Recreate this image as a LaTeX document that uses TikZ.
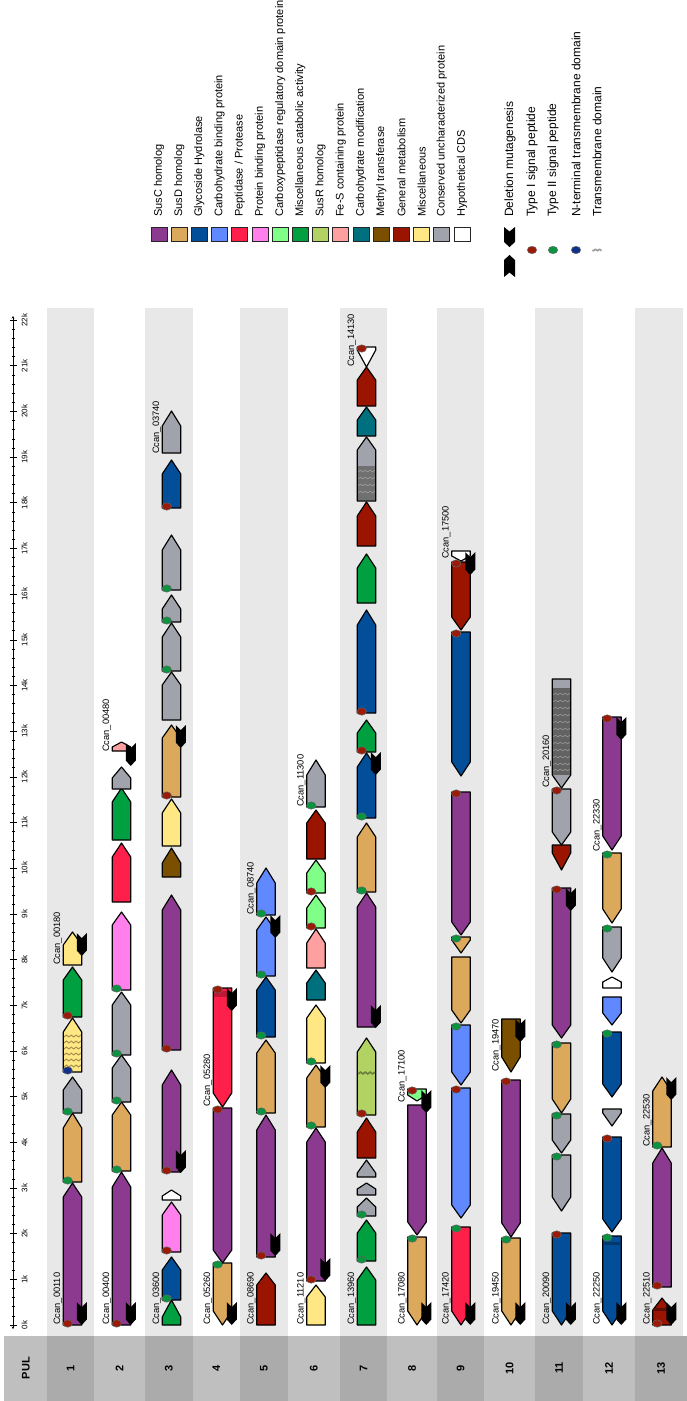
\documentclass[tikz,border=0pt]{standalone}
\usepackage{fontspec}
\setmainfont{Liberation Sans}
\usetikzlibrary{arrows.meta}
\definecolor{cSusC}{HTML}{8B3A8F}
\definecolor{cSusD}{HTML}{DBA85C}
\definecolor{cGH}{HTML}{034E99}
\definecolor{cCBP}{HTML}{6089FF}
\definecolor{cPep}{HTML}{FF1F4B}
\definecolor{cPBP}{HTML}{FF80EC}
\definecolor{cCarbx}{HTML}{80FF88}
\definecolor{cMcat}{HTML}{00A040}
\definecolor{cSusR}{HTML}{B2D263}
\definecolor{cFeS}{HTML}{FFA0A0}
\definecolor{cCmod}{HTML}{006F7E}
\definecolor{cMeth}{HTML}{7A5000}
\definecolor{cGen}{HTML}{9B1400}
\definecolor{cMisc}{HTML}{FFE884}
\definecolor{cCons}{HTML}{A0A3AB}
\definecolor{cHyp}{HTML}{FFFFFF}
\definecolor{spR}{HTML}{9B1A08}
\definecolor{spG}{HTML}{0A9440}
\definecolor{spB}{HTML}{10308A}
\definecolor{bandc}{HTML}{E8E8E8}
\definecolor{hdA}{HTML}{ABABAB}
\definecolor{hdB}{HTML}{BFBFBF}
\definecolor{tmY}{HTML}{A89050}
\definecolor{tmG}{HTML}{707070}
\definecolor{tmD}{HTML}{626262}
\definecolor{tmL}{HTML}{9A9A9A}
\tikzset{
  gene/.style={draw=black,line width=1.15pt,line join=round},
  spdot/.style={draw=black!60,line width=0.5pt},
  lbl/.style={rotate=90,anchor=south west,inner sep=0pt,font=\fontsize{9.3}{10}\selectfont},
  axl/.style={rotate=90,anchor=center,inner sep=0pt,font=\fontsize{8}{9}\selectfont},
  legt/.style={rotate=90,anchor=west,inner sep=0pt,font=\fontsize{11}{12}\selectfont},
  mlegt/.style={rotate=90,anchor=west,inner sep=0pt,font=\fontsize{12}{13}\selectfont},
  hdt/.style={rotate=90,anchor=center,inner sep=0pt,font=\fontsize{11}{12}\selectfont\bfseries},
  legbox/.style={draw=black!85,line width=1pt},
  axisln/.style={draw=black,line width=0.6pt},
  tmw/.style={line width=1pt}
}
% forward gene: x, ylow(start), ytip, head, colour
\newcommand{\GF}[5]{\filldraw[gene,fill=#5] ({#1-9.25},#2) -- ({#1+9.25},#2) -- ({#1+9.25},{#3+#4}) -- (#1,#3) -- ({#1-9.25},{#3+#4}) -- cycle;}
% reverse gene: x, ytop(start), ytip, head, colour
\newcommand{\GR}[5]{\filldraw[gene,fill=#5] ({#1-9.25},#2) -- ({#1+9.25},#2) -- ({#1+9.25},{#3-#4}) -- (#1,#3) -- ({#1-9.25},{#3-#4}) -- cycle;}
\newcommand{\DF}[3]{\filldraw[spdot,fill=#3] ({#1-4.8},{#2-1.5}) ellipse [x radius=4.7pt, y radius=3.7pt];}
\newcommand{\DR}[3]{\filldraw[spdot,fill=#3] ({#1-4.8},{#2+1.5}) ellipse [x radius=4.7pt, y radius=3.7pt];}
\newcommand{\DM}[2]{\fill[black] ({#1+4.25},#2) -- ({#1+9.25},{#2+5}) -- ({#1+14.25},#2) -- ({#1+14.25},{#2+17.5}) -- ({#1+9.25},{#2+23}) -- ({#1+4.25},{#2+17.5}) -- cycle;}
\newcommand{\LB}[4]{\node[lbl] (#4) at ({#1-10.3},#2) {#3};}
\def\xA{72.5}\def\xB{121.5}\def\xC{171.5}\def\xD{222.5}\def\xE{266}\def\xF{316}\def\xG{366.5}
\def\xH{417}\def\xI{461}\def\xJ{511}\def\xK{561.5}\def\xL{612}\def\xM{662}
\begin{document}
\begin{tikzpicture}[x=1pt,y=-1pt]
\useasboundingbox (0,0) rectangle (687,1401);
\fill[white] (0,0) rectangle (687,1401);
% bands
\foreach \a/\b in {46.7/94.3,145/192.7,240/287.7,340/387,437/484.3,535/583,635/683}
  {\fill[bandc] (\a,308) rectangle (\b,1336);}
% header
\fill[hdB] (4,1336) rectangle (46.7,1401);
\node[hdt] (hpul) at (26,1368) {PUL};
\foreach \a/\b/\c/\n in {46.7/94.3/hdA/1,94.3/145/hdB/2,145/192.7/hdA/3,192.7/240/hdB/4,240/287.7/hdA/5,287.7/340/hdB/6,340/387/hdA/7,387/437/hdB/8,437/484.3/hdA/9,484.3/535/hdB/10,535/583/hdA/11,583/635/hdB/12,635/687/hdA/13}
  {\fill[\c] (\a,1336) rectangle (\b,1401);
   \node[hdt] (h\n) at ({(\a+\b)/2},1368) {\n};}
% axis
\draw[axisln,{Stealth[length=2.5pt,width=2.5pt]}-{Stealth[length=2.5pt,width=2.5pt]}] (13,1329) -- (13,316);
\foreach \j in {0,...,110} {\pgfmathsetmacro\yy{1325-9.136*\j}\draw[axisln] (11.5,\yy) -- (15,\yy);}
\foreach \k in {0,...,22} {\pgfmathsetmacro\yy{1325-45.68*\k}\draw[axisln] (10,\yy) -- (16.5,\yy);
  \node[axl] (ax\k) at (24.5,\yy) {\k k};}
% ---------------- legend
\foreach \c/\t [count=\i from 0] in {cSusC/{SusC homolog},cSusD/{SusD homolog},cGH/{Glycoside Hydrolase},cCBP/{Carbohydrate binding protein},cPep/{Peptidase / Protease},cPBP/{Protein binding protein},cCarbx/{Carboxypeptidase regulatory domain protein},cMcat/{Miscellaneous catabolic activity},cSusR/{SusR homolog},cFeS/{Fe-S containing protein},cCmod/{Carbohydrate modification},cMeth/{Methyl transferase},cGen/{General metabolism},cMisc/{Miscellaneous},cCons/{Conserved uncharacterized protein},cHyp/{Hypothetical CDS}}
  {\pgfmathsetmacro\lx{159+20.2*\i}
   \filldraw[legbox,fill=\c] (\lx-8,227) rectangle (\lx+8,241);
   \node[legt] (lg\i) at (\lx,217) {\t};}
\node[mlegt] (mdel) at (510,217) {Deletion mutagenesis};
\node[mlegt] (mt1) at (532,217) {Type I signal peptide};
\node[mlegt] (mt2) at (553,217) {Type II signal peptide};
\node[mlegt] (mnt) at (576,217) {N-terminal transmembrane domain};
\node[mlegt] (mtm) at (597,217) {Transmembrane domain};
\fill[black] (504,227) -- (509.5,231.5) -- (515,227) -- (515,242) -- (509.5,247) -- (504,242) -- cycle;
\fill[black] (504,260) -- (509.5,255) -- (515,260) -- (515,277) -- (509.5,272.5) -- (504,277) -- cycle;
\filldraw[spdot,fill=spR] (532,250) ellipse [x radius=4.7pt, y radius=3.7pt];
\filldraw[spdot,fill=spG] (553,250) ellipse [x radius=4.7pt, y radius=3.7pt];
\filldraw[spdot,fill=spB] (576,250) ellipse [x radius=4.7pt, y radius=3.7pt];
\draw[tmL,line width=1.6pt] plot[domain=0:9,samples=12,smooth] ({592.5+\x},{250+0.7*sin(\x*90)});
% ---------------- row 1
\GF{\xA}{1325}{1183}{14}{cSusC}
\GF{\xA}{1182}{1113}{15}{cSusD}
\GF{\xA}{1113}{1077}{13}{cCons}
\GF{\xA}{1072}{1018}{14}{cMisc}
\foreach \yy in {1036,1042,1048,1054,1060,1066}{\draw[tmw,tmY] plot[domain=-8.4:8.4,samples=15,smooth] ({72.5+\x},{\yy+0.9*sin(\x*75)});}
\GF{\xA}{1017}{967}{13}{cMcat}
\GF{\xA}{965}{932}{13}{cMisc}
\DF{\xA}{1325}{spR}\DF{\xA}{1182}{spG}\DF{\xA}{1113}{spG}\DF{\xA}{1072}{spB}\DF{\xA}{1017}{spR}
\DM{\xA}{1302}\DM{\xA}{933}
\LB{\xA}{1325}{Ccan\_00110}{l1a}\LB{\xA}{965}{Ccan\_00180}{l1b}
% ---------------- row 2
\GF{\xB}{1325}{1172}{15}{cSusC}
\GF{\xB}{1171}{1102}{13}{cSusD}
\GF{\xB}{1102}{1055}{13}{cCons}
\GF{\xB}{1055}{992}{13}{cCons}
\GF{\xB}{990}{912}{13}{cPBP}
\GF{\xB}{902}{843}{14}{cPep}
\GF{\xB}{840}{788}{14}{cMcat}
\GF{\xB}{789}{767}{11}{cCons}
\GF{\xB}{751}{742}{5}{cFeS}
\DF{\xB}{1325}{spR}\DF{\xB}{1171}{spG}\DF{\xB}{1102}{spG}\DF{\xB}{1055}{spG}\DF{\xB}{990}{spG}
\DM{\xB}{1302}\DM{\xB}{743}
\LB{\xB}{1325}{Ccan\_00400}{l2a}\LB{\xB}{752}{Ccan\_00480}{l2b}
% ---------------- row 3
\GF{\xC}{1325}{1300}{17}{cMcat}
\GF{\xC}{1300}{1257}{13}{cGH}
\GF{\xC}{1252}{1202}{13}{cPBP}
\GF{\xC}{1200}{1190}{6}{cHyp}
\GF{\xC}{1172}{1070}{15}{cSusC}
\GF{\xC}{1050}{895}{15}{cSusC}
\GF{\xC}{877}{848}{15}{cMeth}
\GF{\xC}{846}{799}{14}{cMisc}
\GF{\xC}{797}{725}{13}{cSusD}
\GF{\xC}{720}{672}{13}{cCons}
\GF{\xC}{671}{623}{14}{cCons}
\GF{\xC}{622}{595}{14}{cCons}
\GF{\xC}{590}{535}{15}{cCons}
\GF{\xC}{508}{460}{14}{cGH}
\GF{\xC}{453}{411}{15}{cCons}
\DF{\xC}{1300}{spG}\DF{\xC}{1252}{spR}\DF{\xC}{1172}{spR}\DF{\xC}{1050}{spR}\DF{\xC}{797}{spR}
\DF{\xC}{671}{spG}\DF{\xC}{622}{spG}\DF{\xC}{590}{spG}\DF{\xC}{508}{spR}
\DM{\xC}{1150}\DM{\xC}{725}
\LB{\xC}{1325}{Ccan\_03600}{l3a}\LB{\xC}{454}{Ccan\_03740}{l3b}
% ---------------- row 4
\GR{\xD}{1263}{1325}{14}{cSusD}
\GR{\xD}{1108}{1263}{13}{cSusC}
\GR{\xD}{988}{1107}{14}{cPep}
\fill[cPep!75!black] (214,991) rectangle (231,997);
\DR{\xD}{1263}{spG}\DR{\xD}{1108}{spR}\DR{\xD}{988}{spR}
\DM{\xD}{1302}\DM{\xD}{988}
\LB{\xD}{1325}{Ccan\_05260}{l4a}\LB{\xD}{1107}{Ccan\_05280}{l4b}
% ---------------- row 5
\GF{\xE}{1325}{1273}{12}{cGen}
\GF{\xE}{1257}{1115}{15}{cSusC}
\GF{\xE}{1113}{1040}{13}{cSusD}
\GF{\xE}{1037}{977}{13}{cGH}
\GF{\xE}{976}{917}{13}{cCBP}
\GF{\xE}{915}{868}{15}{cCBP}
\DF{\xE}{1257}{spR}\DF{\xE}{1113}{spG}\DF{\xE}{1037}{spG}\DF{\xE}{976}{spG}\DF{\xE}{915}{spG}
\DM{\xE}{1233}\DM{\xE}{915}
\LB{\xE}{1325}{Ccan\_08690}{l5a}\LB{\xE}{915}{Ccan\_08740}{l5b}
% ---------------- row 6
\GF{\xF}{1325}{1285}{12}{cMisc}
\GF{\xF}{1281}{1128}{14}{cSusC}
\GF{\xF}{1127}{1065}{13}{cSusD}
\GF{\xF}{1063}{1005}{13}{cMisc}
\GF{\xF}{1000}{970}{13}{cCmod}
\GF{\xF}{968}{929}{14}{cFeS}
\GF{\xF}{928}{895}{13}{cCarbx}
\GF{\xF}{893}{860}{13}{cCarbx}
\GF{\xF}{859}{810}{13}{cGen}
\GF{\xF}{807}{760}{15}{cCons}
\DF{\xF}{1281}{spR}\DF{\xF}{1127}{spG}\DF{\xF}{1063}{spG}\DF{\xF}{928}{spR}\DF{\xF}{893}{spR}\DF{\xF}{807}{spG}
\DM{\xF}{1258}\DM{\xF}{1065}
\LB{\xF}{1325}{Ccan\_11210}{l6a}\LB{\xF}{807}{Ccan\_11300}{l6b}
% ---------------- row 7
\GF{\xG}{1325}{1267}{13}{cMcat}
\GF{\xG}{1261}{1220}{13}{cMcat}
\GF{\xG}{1216}{1198}{9}{cCons}
\GF{\xG}{1195}{1183}{6}{cCons}
\GF{\xG}{1177}{1160}{13}{cCons}
\GF{\xG}{1158}{1118}{14}{cGen}
\GF{\xG}{1115}{1038}{14}{cSusR}
\draw[tmw,cSusR!60!black,line width=1.6pt] plot[domain=-8.4:8.4,samples=15,smooth] ({366.5+\x},{1073+0.9*sin(\x*75)});
\GF{\xG}{1027}{893}{14}{cSusC}
\GF{\xG}{892}{823}{14}{cSusD}
\GF{\xG}{818}{753}{14}{cGH}
\GF{\xG}{752}{720}{13}{cMcat}
\GF{\xG}{713}{610}{15}{cGH}
\GF{\xG}{603}{554}{14}{cMcat}
\GF{\xG}{546}{502}{14}{cGen}
\GF{\xG}{501}{437}{13}{cCons}
\fill[tmG] (357.9,466) rectangle (375.1,499.5);
\foreach \yy in {471,478,485,492}{\draw[tmw,tmL,line width=0.7pt] plot[domain=-8.4:8.4,samples=15,smooth] ({366.5+\x},{\yy+0.8*sin(\x*75)});}
\GF{\xG}{436}{407}{13}{cCmod}
\GF{\xG}{406}{367}{13}{cGen}
\GR{\xG}{347}{367}{17}{cHyp}
\DF{\xG}{1261}{spG}\DF{\xG}{1216}{spG}\DF{\xG}{1115}{spR}\DF{\xG}{892}{spG}\DF{\xG}{818}{spG}
\DF{\xG}{752}{spR}\DF{\xG}{713}{spR}\DR{\xG}{347}{spR}
\DM{\xG}{1005}\DM{\xG}{752}
\LB{\xG}{1325}{Ccan\_13960}{l7a}\LB{\xG}{367}{Ccan\_14130}{l7b}
% ---------------- row 8
\GR{\xH}{1237}{1325}{14}{cSusD}
\GR{\xH}{1105}{1235}{13}{cSusC}
\GR{\xH}{1089}{1101}{6}{cCarbx}
\DR{\xH}{1237}{spG}\DR{\xH}{1089}{spR}
\DM{\xH}{1302}\DM{\xH}{1090}
\LB{\xH}{1325}{Ccan\_17080}{l8a}\LB{\xH}{1103}{Ccan\_17100}{l8b}
% ---------------- row 9
\GR{\xI}{1227}{1325}{14}{cPep}
\GR{\xI}{1088}{1218}{13}{cCBP}
\GR{\xI}{1025}{1085}{13}{cCBP}
\GR{\xI}{957}{1023}{13}{cSusD}
\GR{\xI}{937}{953}{13}{cSusD}
\GR{\xI}{792}{935}{13}{cSusC}
\GR{\xI}{632}{776}{14}{cGH}
\GR{\xI}{562}{630}{13}{cGen}
\GR{\xI}{551}{561}{5}{cHyp}
\DR{\xI}{1227}{spG}\DR{\xI}{1088}{spR}\DR{\xI}{1025}{spG}\DR{\xI}{937}{spG}\DR{\xI}{792}{spR}
\DR{\xI}{632}{spR}\DR{\xI}{562}{spR}
\DM{\xI}{1302}\DM{\xI}{552}
\LB{\xI}{1325}{Ccan\_17420}{l9a}\LB{\xI}{559}{Ccan\_17500}{l9b}
% ---------------- row 10
\GR{\xJ}{1238}{1325}{14}{cSusD}
\GR{\xJ}{1080}{1237}{14}{cSusC}
\GR{\xJ}{1019}{1072}{15}{cMeth}
\DR{\xJ}{1238}{spG}\DR{\xJ}{1080}{spR}
\DM{\xJ}{1302}\DM{\xJ}{1019}
\LB{\xJ}{1325}{Ccan\_19450}{l10a}\LB{\xJ}{1072}{Ccan\_19470}{l10b}
% ---------------- row 11
\GR{\xK}{1233}{1325}{14}{cGH}
\GR{\xK}{1155}{1211}{14}{cCons}
\GR{\xK}{1114}{1153}{13}{cCons}
\GR{\xK}{1043}{1113}{14}{cSusD}
\GR{\xK}{888}{1038}{13}{cSusC}
\GR{\xK}{845}{870}{17}{cGen}
\GR{\xK}{789}{845}{13}{cCons}
\GR{\xK}{679}{788}{13}{cCons}
\fill[tmD] (552.9,688) rectangle (570.1,774.5);
\foreach \yy in {694,701,708,715,722,729,736,743,750,757,764,770}{\draw[tmw,tmL,line width=0.6pt] plot[domain=-8.4:8.4,samples=15,smooth] ({561.5+\x},{\yy+0.8*sin(\x*75)});}
\DR{\xK}{1233}{spR}\DR{\xK}{1155}{spG}\DR{\xK}{1114}{spG}\DR{\xK}{1043}{spG}\DR{\xK}{888}{spR}\DR{\xK}{789}{spR}
\DM{\xK}{1302}\DM{\xK}{888}
\LB{\xK}{1325}{Ccan\_20090}{l11a}\LB{\xK}{788}{Ccan\_20160}{l11b}
% ---------------- row 12
\GR{\xL}{1236}{1325}{14}{cGH}
\fill[cGH!70!black] (603.4,1242) rectangle (620.6,1245);
\GR{\xL}{1137}{1232}{13}{cGH}
\GR{\xL}{1109}{1126}{13}{cCons}
\GR{\xL}{1032}{1097}{13}{cGH}
\GR{\xL}{997}{1025}{12}{cCBP}
\GF{\xL}{988}{977}{5}{cHyp}
\GR{\xL}{927}{972}{14}{cCons}
\GR{\xL}{853}{923}{14}{cSusD}
\GR{\xL}{717}{850}{14}{cSusC}
\DR{\xL}{1236}{spG}\DR{\xL}{1137}{spR}\DR{\xL}{1032}{spG}\DR{\xL}{927}{spG}\DR{\xL}{853}{spG}\DR{\xL}{717}{spR}
\DM{\xL}{1302}\DM{\xL}{717}
\LB{\xL}{1325}{Ccan\_22250}{l12a}\LB{\xL}{852}{Ccan\_22330}{l12b}
% ---------------- row 13
\GF{\xM}{1325}{1298}{12}{cGen}
\fill[cGen!60!black] (653.4,1308) rectangle (670.6,1311);
\GF{\xM}{1287}{1148}{15}{cSusC}
\GF{\xM}{1147}{1077}{14}{cSusD}
\DF{\xM}{1325}{spR}\DF{\xM}{1287}{spR}\DF{\xM}{1147}{spG}
\DM{\xM}{1302}\DM{\xM}{1077}
\LB{\xM}{1325}{Ccan\_22510}{l13a}\LB{\xM}{1147}{Ccan\_22530}{l13b}
\end{tikzpicture}
\end{document}
